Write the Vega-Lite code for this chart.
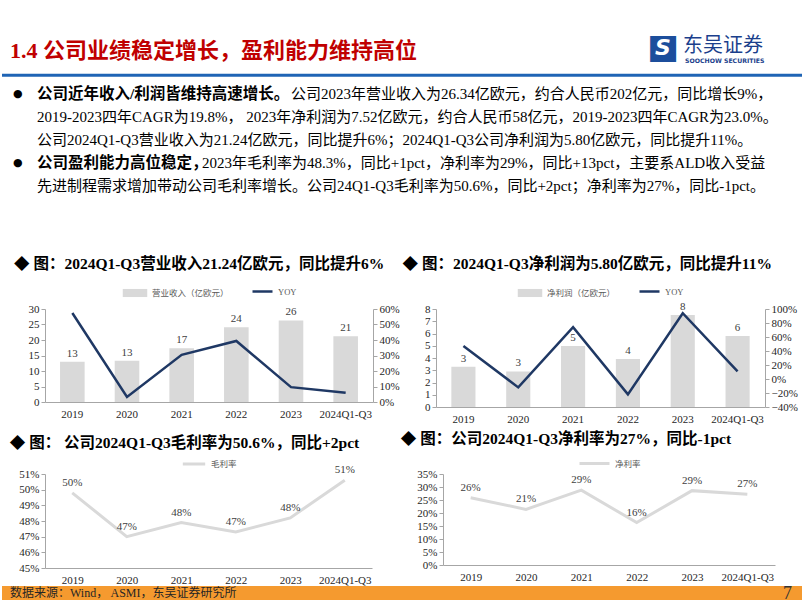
{
  "$schema": "https://vega.github.io/schema/vega-lite/v6.json",
  "background": "white",
  "padding": {"left": 0, "top": 30, "right": 0, "bottom": 0},
  "spacing": 0,
  "resolve": {"scale": {"fill": "independent", "stroke": "independent"}, "legend": {"fill": "independent", "stroke": "independent"}},
  "config": {
    "font": "Liberation Serif, Noto Sans CJK SC",
    "view": {"stroke": null},
    "axis": {"grid": false, "domainColor": "#A6A6A6", "tickColor": "#A6A6A6", "labelColor": "#262626", "labelFontSize": 11, "tickSize": 4, "labelFont": "Liberation Serif, Noto Sans CJK SC"},
    "legend": {"labelFontSize": 8.5, "labelColor": "#595959", "orient": "top", "labelFont": "Liberation Serif, Noto Sans CJK SC", "layout": {"top": {"anchor": "middle", "direction": "horizontal", "margin": 22}}},
    "title": {"anchor": "start", "fontSize": 15.5, "fontWeight": "bold", "color": "#000000", "font": "Liberation Serif, Noto Sans CJK SC"},
    "text": {"font": "Liberation Serif, Noto Sans CJK SC"}
  },
  "datasets": {
    "header": [
      {"row": "title", "kind": "title", "text": "1.4 公司业绩稳定增长，盈利能力维持高位"},
      {"row": "title", "kind": "logoIcon", "text": "■"},
      {"row": "title", "kind": "logoS", "text": "S"},
      {"row": "title", "kind": "logoName", "text": "东吴证券"},
      {"row": "title", "kind": "logoEn", "text": "SOOCHOW SECURITIES"},
      {"row": "gap", "kind": "rule", "text": ""},
      {"row": "b1", "kind": "bullet", "text": "●"},
      {"row": "b4", "kind": "bullet", "text": "●"},
      {"row": "b1", "kind": "bold", "text": "公司近年收入/利润皆维持高速增长。"},
      {"row": "b1", "kind": "rest1", "text": "公司2023年营业收入为26.34亿欧元，约合人民币202亿元，同比增长9%，"},
      {"row": "b2", "kind": "plain", "text": "2019-2023四年CAGR为19.8%， 2023年净利润为7.52亿欧元，约合人民币58亿元，2019-2023四年CAGR为23.0%。"},
      {"row": "b3", "kind": "plain", "text": "公司2024Q1-Q3营业收入为21.24亿欧元，同比提升6%；2024Q1-Q3公司净利润为5.80亿欧元，同比提升11%。"},
      {"row": "b4", "kind": "bold", "text": "公司盈利能力高位稳定，"},
      {"row": "b4", "kind": "rest4", "text": "2023年毛利率为48.3%，同比+1pct，净利率为29%，同比+13pct，主要系ALD收入受益"},
      {"row": "b5", "kind": "plain", "text": "先进制程需求增加带动公司毛利率增长。公司24Q1-Q3毛利率为50.6%，同比+2pct；净利率为27%，同比-1pct。"}
    ],
    "rev": [
      {"year": "2019", "value": 13.0, "yoy": 0.574},
      {"year": "2020", "value": 13.3, "yoy": 0.032},
      {"year": "2021", "value": 17.3, "yoy": 0.304},
      {"year": "2022", "value": 24.1, "yoy": 0.394},
      {"year": "2023", "value": 26.3, "yoy": 0.096},
      {"year": "2024Q1-Q3", "value": 21.2, "yoy": 0.06}
    ],
    "np": [
      {"year": "2019", "value": 3.29, "yoy": 0.47},
      {"year": "2020", "value": 2.9, "yoy": -0.12},
      {"year": "2021", "value": 4.98, "yoy": 0.74},
      {"year": "2022", "value": 3.92, "yoy": -0.22},
      {"year": "2023", "value": 7.52, "yoy": 0.94},
      {"year": "2024Q1-Q3", "value": 5.8, "yoy": 0.11}
    ],
    "gm": [
      {"year": "2019", "value": 0.498},
      {"year": "2020", "value": 0.470},
      {"year": "2021", "value": 0.479},
      {"year": "2022", "value": 0.473},
      {"year": "2023", "value": 0.482},
      {"year": "2024Q1-Q3", "value": 0.506}
    ],
    "nm": [
      {"year": "2019", "value": 0.259},
      {"year": "2020", "value": 0.214},
      {"year": "2021", "value": 0.288},
      {"year": "2022", "value": 0.163},
      {"year": "2023", "value": 0.286},
      {"year": "2024Q1-Q3", "value": 0.272}
    ],
    "footer": [
      {"kind": "band", "text": ""},
      {"kind": "src", "text": "数据来源：Wind， ASMI，东吴证券研究所"},
      {"kind": "page", "text": "7"}
    ]
  },
  "vconcat": [
    {
      "width": 759,
      "height": 221,
      "data": {"name": "header"},
      "encoding": {
        "x": {"datum": 0, "type": "quantitative", "scale": {"domain": [0, 1]}, "axis": null},
        "y": {"field": "row", "type": "nominal", "bandPosition": 0.5, "scale": {"type": "band", "domain": ["title", "gap", "b1", "b2", "b3", "b4", "b5", "end1", "end2"], "paddingInner": 0, "paddingOuter": 0.304, "align": 0}, "axis": null}
      },
      "layer": [
        {"transform": [{"filter": "datum.kind == 'rule'"}], "mark": {"type": "rule", "color": "#1F64B5", "strokeWidth": 3}, "encoding": {"x": {"datum": -0.05665, "type": "quantitative"}, "x2": {"datum": 1}, "y": {"datum": "gap", "type": "nominal", "bandPosition": 0.75}}},
        {"transform": [{"filter": "datum.kind == 'title'"}], "mark": {"type": "text", "align": "left", "baseline": "middle", "fontSize": 22, "fontWeight": "bold", "color": "#C00000", "dx": -35, "dy": 4}, "encoding": {"text": {"field": "text"}}},
        {"transform": [{"filter": "datum.kind == 'logoIcon'"}], "mark": {"type": "text", "align": "center", "baseline": "middle", "fontSize": 34, "color": "#1C4E9C", "font": "DejaVu Sans", "dx": 618, "dy": 1}, "encoding": {"text": {"field": "text"}}},
        {"transform": [{"filter": "datum.kind == 'logoS'"}], "mark": {"type": "text", "align": "center", "baseline": "middle", "fontSize": 22, "fontWeight": "bold", "fontStyle": "italic", "color": "#FFFFFF", "font": "DejaVu Sans", "dx": 618, "dy": 1}, "encoding": {"text": {"field": "text"}}},
        {"transform": [{"filter": "datum.kind == 'logoName'"}], "mark": {"type": "text", "align": "left", "baseline": "middle", "fontSize": 20, "color": "#1B3F8C", "font": "Noto Sans CJK SC", "dx": 638, "dy": -1}, "encoding": {"text": {"field": "text"}}},
        {"transform": [{"filter": "datum.kind == 'logoEn'"}], "mark": {"type": "text", "align": "left", "baseline": "middle", "fontSize": 6.2, "fontWeight": "bold", "color": "#1B3F8C", "font": "DejaVu Sans", "dx": 640, "dy": 14}, "encoding": {"text": {"field": "text"}}},
        {"transform": [{"filter": "datum.kind == 'bullet'"}], "mark": {"type": "text", "align": "left", "baseline": "middle", "fontSize": 11, "color": "#000000", "font": "DejaVu Sans", "dx": -32, "dy": 1}, "encoding": {"text": {"field": "text"}}},
        {"transform": [{"filter": "datum.kind == 'bold'"}], "mark": {"type": "text", "align": "left", "baseline": "middle", "fontSize": 15.5, "fontWeight": "bold", "color": "#000000", "dx": -8, "dy": 1}, "encoding": {"text": {"field": "text"}}},
        {"transform": [{"filter": "datum.kind == 'rest1'"}], "mark": {"type": "text", "align": "left", "baseline": "middle", "fontSize": 15, "color": "#000000", "dx": 246, "dy": 1}, "encoding": {"text": {"field": "text"}}},
        {"transform": [{"filter": "datum.kind == 'rest4'"}], "mark": {"type": "text", "align": "left", "baseline": "middle", "fontSize": 15, "color": "#000000", "dx": 157, "dy": 1}, "encoding": {"text": {"field": "text"}}},
        {"transform": [{"filter": "datum.kind == 'plain'"}], "mark": {"type": "text", "align": "left", "baseline": "middle", "fontSize": 15, "color": "#000000", "dx": -8, "dy": 1}, "encoding": {"text": {"field": "text"}}}
      ]
    },
    {
      "spacing": 7,
      "resolve": {"scale": {"fill": "independent", "stroke": "independent"}, "legend": {"fill": "independent", "stroke": "independent"}},
      "vconcat": [
        {
          "spacing": 2,
          "resolve": {"scale": {"fill": "independent", "stroke": "independent"}, "legend": {"fill": "independent", "stroke": "independent"}},
          "hconcat": [
            {
              "width": 328,
              "height": 93,
              "title": {"text": "◆ 图：2024Q1-Q3营业收入21.24亿欧元，同比提升6%", "offset": 8, "dx": -14},
              "data": {"name": "rev"},
              "layer": [
                {
                  "encoding": {
                    "x": {"field": "year", "type": "ordinal", "sort": null, "scale": {"paddingInner": 0.55, "paddingOuter": 0.275}, "axis": {"title": null, "labelAngle": 0, "ticks": false, "labelPadding": 6}},
                    "y": {"field": "value", "type": "quantitative", "scale": {"domain": [0, 30]}, "axis": {"title": null, "values": [0, 5, 10, 15, 20, 25, 30]}}
                  },
                  "layer": [
                    {"mark": {"type": "bar", "color": "#D9D9D9"}, "encoding": {
                      "fill": {"datum": "营业收入（亿欧元）", "type": "nominal", "scale": {"range": ["#D9D9D9"]}, "legend": {"title": null, "symbolType": "M-1,-0.33H1V0.33H-1Z", "symbolSize": 600, "offset": 11}}
                    }},
                    {"mark": {"type": "text", "baseline": "bottom", "dy": -3, "fontSize": 11, "color": "#404040"}, "encoding": {
                      "x": {"field": "year", "type": "ordinal", "sort": null, "bandPosition": 0.5},
                      "text": {"field": "value", "format": ".0f"}
                    }}
                  ]
                },
                {"mark": {"type": "line", "strokeWidth": 2.5}, "encoding": {
                  "x": {"field": "year", "type": "ordinal", "sort": null, "bandPosition": 0.5},
                  "y": {"field": "yoy", "type": "quantitative", "scale": {"domain": [0, 0.6]}, "axis": {"title": null, "orient": "right", "format": ".0%", "values": [0, 0.1, 0.2, 0.3, 0.4, 0.5, 0.6]}},
                  "stroke": {"datum": "YOY", "type": "nominal", "scale": {"range": ["#1F3864"]}, "legend": {"title": null, "symbolType": "stroke", "symbolSize": 400, "symbolStrokeWidth": 2.5, "offset": 11}}
                }}
              ],
              "resolve": {"scale": {"y": "independent"}}
            },
            {
              "width": 329,
              "height": 98,
              "title": {"text": "◆ 图：2024Q1-Q3净利润为5.80亿欧元，同比提升11%", "offset": 8, "dx": -22},
              "data": {"name": "np"},
              "layer": [
                {
                  "encoding": {
                    "x": {"field": "year", "type": "ordinal", "sort": null, "scale": {"paddingInner": 0.56, "paddingOuter": 0.28}, "axis": {"title": null, "labelAngle": 0, "ticks": false, "labelPadding": 6}},
                    "y": {"field": "value", "type": "quantitative", "scale": {"domain": [0, 8]}, "axis": {"title": null, "values": [0, 1, 2, 3, 4, 5, 6, 7, 8]}}
                  },
                  "layer": [
                    {"mark": {"type": "bar", "color": "#D9D9D9"}, "encoding": {
                      "fill": {"datum": "净利润（亿欧元）", "type": "nominal", "scale": {"range": ["#D9D9D9"]}, "legend": {"title": null, "symbolType": "M-1,-0.33H1V0.33H-1Z", "symbolSize": 600, "offset": 11}}
                    }},
                    {"mark": {"type": "text", "baseline": "bottom", "dy": -3, "fontSize": 11, "color": "#404040"}, "encoding": {
                      "x": {"field": "year", "type": "ordinal", "sort": null, "bandPosition": 0.5},
                      "text": {"field": "value", "format": ".0f"}
                    }}
                  ]
                },
                {"mark": {"type": "line", "strokeWidth": 2.5}, "encoding": {
                  "x": {"field": "year", "type": "ordinal", "sort": null, "bandPosition": 0.5},
                  "y": {"field": "yoy", "type": "quantitative", "scale": {"domain": [-0.4, 1.0]}, "axis": {"title": null, "orient": "right", "format": ".0%", "values": [-0.4, -0.2, 0, 0.2, 0.4, 0.6, 0.8, 1.0]}},
                  "stroke": {"datum": "YOY", "type": "nominal", "scale": {"range": ["#1F3864"]}, "legend": {"title": null, "symbolType": "stroke", "symbolSize": 400, "symbolStrokeWidth": 2.5, "offset": 11}}
                }}
              ],
              "resolve": {"scale": {"y": "independent"}}
            }
          ]
        },
        {
          "spacing": 28,
          "resolve": {"scale": {"fill": "independent", "stroke": "independent"}, "legend": {"fill": "independent", "stroke": "independent"}},
          "hconcat": [
            {
              "width": 327,
              "height": 94,
              "title": {"text": "◆ 图： 公司2024Q1-Q3毛利率为50.6%，同比+2pct", "offset": 0, "dx": -9},
              "data": {"name": "gm"},
              "encoding": {
                "x": {"field": "year", "type": "ordinal", "sort": null, "scale": {"type": "point", "padding": 0.5}, "axis": {"title": null, "labelAngle": 0, "ticks": false, "labelPadding": 6}},
                "y": {"field": "value", "type": "quantitative", "scale": {"domain": [0.45, 0.51]}, "axis": {"title": null, "format": ".0%", "values": [0.45, 0.46, 0.47, 0.48, 0.49, 0.50, 0.51]}}
              },
              "layer": [
                {"mark": {"type": "line", "strokeWidth": 3}, "encoding": {"stroke": {"datum": "毛利率", "type": "nominal", "scale": {"range": ["#D9D9D9"]}, "legend": {"title": null, "symbolType": "stroke", "symbolSize": 500, "symbolStrokeWidth": 3, "offset": 4}}}},
                {"mark": {"type": "text", "baseline": "bottom", "dy": -5, "fontSize": 11, "color": "#404040"}, "encoding": {"text": {"field": "value", "format": ".0%"}}}
              ]
            },
            {
              "width": 332,
              "height": 91,
              "title": {"text": "◆ 图：公司2024Q1-Q3净利率为27%，同比-1pct", "offset": 0, "dx": -16},
              "data": {"name": "nm"},
              "encoding": {
                "x": {"field": "year", "type": "ordinal", "sort": null, "scale": {"type": "point", "padding": 0.5}, "axis": {"title": null, "labelAngle": 0, "ticks": false, "labelPadding": 6}},
                "y": {"field": "value", "type": "quantitative", "scale": {"domain": [0, 0.35]}, "axis": {"title": null, "format": ".0%", "values": [0, 0.05, 0.1, 0.15, 0.2, 0.25, 0.3, 0.35]}}
              },
              "layer": [
                {"mark": {"type": "line", "strokeWidth": 3}, "encoding": {"stroke": {"datum": "净利率", "type": "nominal", "scale": {"range": ["#D9D9D9"]}, "legend": {"title": null, "symbolType": "stroke", "symbolSize": 900, "symbolStrokeWidth": 3, "offset": 4}}}},
                {"mark": {"type": "text", "baseline": "bottom", "dy": -5, "fontSize": 11, "color": "#404040"}, "encoding": {"text": {"field": "value", "format": ".0%"}}}
              ]
            }
          ]
        }
      ]
    },
    {
      "width": 759,
      "height": 14,
      "data": {"name": "footer"},
      "encoding": {
        "x": {"datum": 0, "type": "quantitative", "scale": {"domain": [0, 1]}, "axis": null}
      },
      "layer": [
        {"transform": [{"filter": "datum.kind == 'band'"}], "mark": {"type": "rect", "color": "#F59A2F"}, "encoding": {"x": {"datum": -0.05665, "type": "quantitative"}, "x2": {"datum": 1}}},
        {"transform": [{"filter": "datum.kind == 'src'"}], "mark": {"type": "text", "align": "left", "baseline": "middle", "fontSize": 12, "color": "#262626", "dx": -35}, "encoding": {"text": {"field": "text"}}},
        {"transform": [{"filter": "datum.kind == 'page'"}], "mark": {"type": "text", "align": "right", "baseline": "middle", "fontSize": 18, "color": "#333333", "dx": -12, "dy": 1}, "encoding": {"x": {"datum": 1, "type": "quantitative"}, "text": {"field": "text"}}}
      ]
    }
  ]
}
